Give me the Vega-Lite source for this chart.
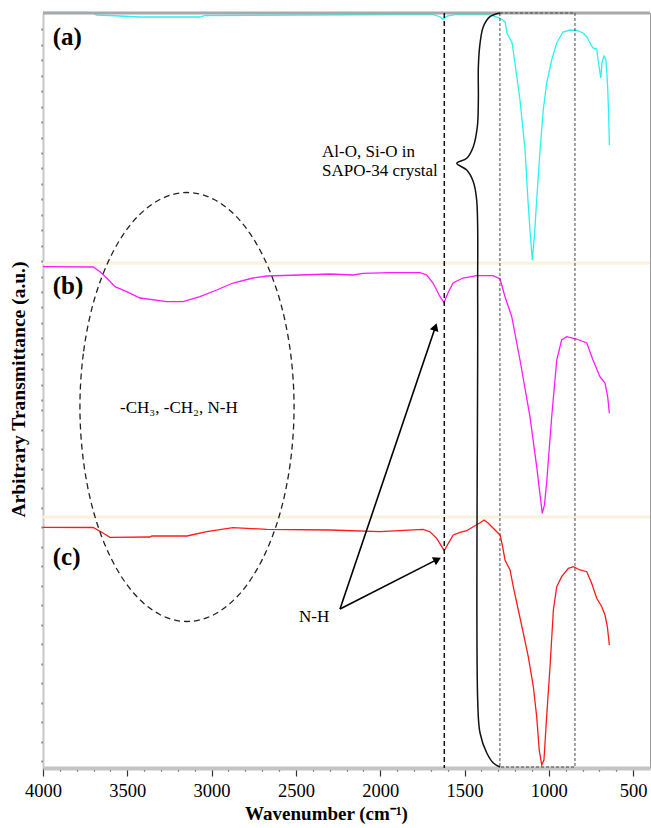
{
  "$schema": "https://vega.github.io/schema/vega-lite/v6.json",
  "width": 607,
  "height": 755,
  "autosize": {"type": "none"},
  "padding": {"left": 43, "top": 13, "right": 1, "bottom": 60},
  "background": "white",
  "config": {
    "font": "Liberation Serif",
    "view": {"stroke": "#9a9a9a", "strokeWidth": 1},
    "axis": {"grid": false}
  },
  "data": {"values": [{"one": 1}]},
  "datasets": {
    "spectra": [
      {"s":"a","wn":4000,"t":755.5},{"s":"a","wn":3720,"t":755.5},{"s":"a","wn":3680,"t":753},{"s":"a","wn":3603,"t":752.5},{"s":"a","wn":3425,"t":751},{"s":"a","wn":3069,"t":751},{"s":"a","wn":3039,"t":752.5},{"s":"a","wn":2476,"t":753},{"s":"a","wn":1883,"t":753.5},{"s":"a","wn":1687,"t":753.5},{"s":"a","wn":1645,"t":751},{"s":"a","wn":1628,"t":748.7},{"s":"a","wn":1604,"t":752},{"s":"a","wn":1556,"t":753.3},{"s":"a","wn":1349,"t":753.3},{"s":"a","wn":1289,"t":749.7},{"s":"a","wn":1260,"t":746.3},{"s":"a","wn":1248,"t":735},{"s":"a","wn":1218,"t":725},{"s":"a","wn":1201,"t":705},{"s":"a","wn":1171,"t":668},{"s":"a","wn":1141,"t":618},{"s":"a","wn":1124,"t":568},{"s":"a","wn":1112,"t":538},{"s":"a","wn":1098,"t":508},{"s":"a","wn":1085,"t":533},{"s":"a","wn":1072,"t":568},{"s":"a","wn":1052,"t":618},{"s":"a","wn":1033,"t":658},{"s":"a","wn":1013,"t":685},{"s":"a","wn":983,"t":708},{"s":"a","wn":953,"t":725},{"s":"a","wn":916,"t":736},{"s":"a","wn":874,"t":738},{"s":"a","wn":833,"t":737.5},{"s":"a","wn":797,"t":735},{"s":"a","wn":774,"t":731},{"s":"a","wn":756,"t":725},{"s":"a","wn":738,"t":720},{"s":"a","wn":716,"t":719},{"s":"a","wn":708,"t":708},{"s":"a","wn":692,"t":690},{"s":"a","wn":685,"t":705},{"s":"a","wn":673,"t":712},{"s":"a","wn":661,"t":708},{"s":"a","wn":651,"t":681},{"s":"a","wn":645,"t":651},{"s":"a","wn":641,"t":623},
      {"s":"b","wn":4000,"t":501.3},{"s":"b","wn":3702,"t":501},{"s":"b","wn":3662,"t":496.3},{"s":"b","wn":3622,"t":490},{"s":"b","wn":3573,"t":481.3},{"s":"b","wn":3504,"t":476.3},{"s":"b","wn":3425,"t":470},{"s":"b","wn":3266,"t":466.3},{"s":"b","wn":3170,"t":466.3},{"s":"b","wn":3069,"t":471.3},{"s":"b","wn":2970,"t":478},{"s":"b","wn":2873,"t":485},{"s":"b","wn":2755,"t":490},{"s":"b","wn":2673,"t":492},{"s":"b","wn":2476,"t":493},{"s":"b","wn":2298,"t":494},{"s":"b","wn":2161,"t":493},{"s":"b","wn":2102,"t":494.7},{"s":"b","wn":1942,"t":495.3},{"s":"b","wn":1764,"t":495.3},{"s":"b","wn":1724,"t":493},{"s":"b","wn":1687,"t":485},{"s":"b","wn":1645,"t":471.3},{"s":"b","wn":1622,"t":465.3},{"s":"b","wn":1598,"t":475},{"s":"b","wn":1568,"t":485},{"s":"b","wn":1509,"t":490},{"s":"b","wn":1428,"t":492.3},{"s":"b","wn":1331,"t":492.3},{"s":"b","wn":1289,"t":489},{"s":"b","wn":1260,"t":471.3},{"s":"b","wn":1220,"t":451.3},{"s":"b","wn":1171,"t":408},{"s":"b","wn":1112,"t":351.3},{"s":"b","wn":1072,"t":301.3},{"s":"b","wn":1052,"t":273},{"s":"b","wn":1039,"t":254.7},{"s":"b","wn":1026,"t":263},{"s":"b","wn":1013,"t":285},{"s":"b","wn":983,"t":351.3},{"s":"b","wn":953,"t":408},{"s":"b","wn":924,"t":428},{"s":"b","wn":894,"t":431.3},{"s":"b","wn":835,"t":429},{"s":"b","wn":775,"t":425},{"s":"b","wn":738,"t":408},{"s":"b","wn":697,"t":391.3},{"s":"b","wn":667,"t":385},{"s":"b","wn":651,"t":371.3},{"s":"b","wn":641,"t":354.7},
      {"s":"c","wn":4000,"t":240.7},{"s":"c","wn":3703,"t":240.5},{"s":"c","wn":3644,"t":235},{"s":"c","wn":3603,"t":230.7},{"s":"c","wn":3365,"t":231},{"s":"c","wn":3354,"t":232},{"s":"c","wn":3146,"t":232},{"s":"c","wn":3029,"t":236.3},{"s":"c","wn":2873,"t":240.3},{"s":"c","wn":2673,"t":238.7},{"s":"c","wn":2298,"t":238},{"s":"c","wn":2001,"t":236.3},{"s":"c","wn":1746,"t":238.7},{"s":"c","wn":1705,"t":236.3},{"s":"c","wn":1665,"t":229.7},{"s":"c","wn":1635,"t":221.3},{"s":"c","wn":1620,"t":217.3},{"s":"c","wn":1596,"t":224.7},{"s":"c","wn":1567,"t":233},{"s":"c","wn":1527,"t":235.7},{"s":"c","wn":1487,"t":237.3},{"s":"c","wn":1448,"t":241.3},{"s":"c","wn":1408,"t":245.3},{"s":"c","wn":1384,"t":248},{"s":"c","wn":1359,"t":244.7},{"s":"c","wn":1319,"t":238},{"s":"c","wn":1289,"t":233},{"s":"c","wn":1274,"t":221.3},{"s":"c","wn":1260,"t":208},{"s":"c","wn":1230,"t":198},{"s":"c","wn":1211,"t":181.3},{"s":"c","wn":1181,"t":158},{"s":"c","wn":1151,"t":134.7},{"s":"c","wn":1122,"t":111.3},{"s":"c","wn":1092,"t":81.3},{"s":"c","wn":1072,"t":51.3},{"s":"c","wn":1057,"t":18},{"s":"c","wn":1042,"t":3},{"s":"c","wn":1029,"t":8},{"s":"c","wn":1013,"t":51.3},{"s":"c","wn":993,"t":101.3},{"s":"c","wn":973,"t":158},{"s":"c","wn":953,"t":181.3},{"s":"c","wn":924,"t":191.3},{"s":"c","wn":884,"t":199.7},{"s":"c","wn":855,"t":201.3},{"s":"c","wn":815,"t":198},{"s":"c","wn":775,"t":196.3},{"s":"c","wn":746,"t":184.7},{"s":"c","wn":716,"t":169.7},{"s":"c","wn":686,"t":161.3},{"s":"c","wn":667,"t":153},{"s":"c","wn":653,"t":141.3},{"s":"c","wn":641,"t":123}
    ],
    "ellipse": [
      {"i":0,"wn":3781,"t":361},{"i":1,"wn":3759,"t":416.6},{"i":2,"wn":3696,"t":468.3},{"i":3,"wn":3595,"t":512.7},{"i":4,"wn":3464,"t":546.8},{"i":5,"wn":3310,"t":568.2},{"i":6,"wn":3146,"t":575.5},{"i":7,"wn":2982,"t":568.2},{"i":8,"wn":2828,"t":546.8},{"i":9,"wn":2697,"t":512.7},{"i":10,"wn":2596,"t":468.3},{"i":11,"wn":2533,"t":416.6},{"i":12,"wn":2511,"t":361},{"i":13,"wn":2533,"t":305.4},{"i":14,"wn":2596,"t":253.7},{"i":15,"wn":2697,"t":209.3},{"i":16,"wn":2828,"t":175.2},{"i":17,"wn":2982,"t":153.8},{"i":18,"wn":3146,"t":146.5},{"i":19,"wn":3310,"t":153.8},{"i":20,"wn":3464,"t":175.2},{"i":21,"wn":3595,"t":209.3},{"i":22,"wn":3696,"t":253.7},{"i":23,"wn":3759,"t":305.4}
    ],
    "brace": [
      {"i":1,"wn":1289.5,"t":755},{"i":2,"wn":1349,"t":751.3},{"i":3,"wn":1388.6,"t":741.3},{"i":4,"wn":1408,"t":724.7},{"i":5,"wn":1418,"t":701.3},{"i":6,"wn":1418,"t":668},{"i":7,"wn":1424,"t":641.3},{"i":8,"wn":1448,"t":621.3},{"i":9,"wn":1487,"t":609.7},{"i":10,"wn":1546,"t":604.7},{"i":11,"wn":1487,"t":598},{"i":12,"wn":1448,"t":586.3},{"i":13,"wn":1428,"t":568},{"i":14,"wn":1422,"t":468},{"i":15,"wn":1422,"t":68},{"i":16,"wn":1408,"t":35},{"i":17,"wn":1368,"t":15},{"i":18,"wn":1329,"t":5},{"i":19,"wn":1289.5,"t":1}
    ],
    "arrows": [
      {"wn":2238.5,"t":159,"wn2":1673,"t2":441.1},
      {"wn":2238.5,"t":159,"wn2":1661,"t2":208.6}
    ],
    "panels": [
      {"label":"(a)","wn":3942,"t":731.3},
      {"label":"(b)","wn":3942,"t":482.5},
      {"label":"(c)","wn":3942,"t":211.5}
    ],
    "notes": [
      {"label":"Al-O, Si-O in","wn":2345,"t":616},
      {"label":"SAPO-34 crystal","wn":2345,"t":597},
      {"label":"-CH₃, -CH₂, N-H","wn":3543,"t":359.7},
      {"label":"N-H","wn":2482,"t":151}
    ]
  },
  "encoding": {
    "x": {
      "type": "quantitative",
      "scale": {"domain": [400, 4000], "reverse": true, "nice": false, "zero": false},
      "axis": {
        "title": "Wavenumber (cm⁻¹)",
        "values": [4000,3900,3800,3700,3600,3500,3400,3300,3200,3100,3000,2900,2800,2700,2600,2500,2400,2300,2200,2100,2000,1900,1800,1700,1600,1500,1400,1300,1200,1100,1000,900,800,700,600,500],
        "format": "d",
        "labelExpr": "datum.value % 500 === 0 ? datum.label : ''",
        "labelOverlap": false,
        "labelFlush": false,
        "labelBound": false,
        "labelFontSize": 18.5,
        "labelColor": "black",
        "labelPadding": 5,
        "tickSize": {"condition": {"test": "datum.value % 500 === 0", "value": 8}, "value": 3},
        "tickColor": "#333",
        "tickWidth": 1.2,
        "domainColor": "#c4c4c4",
        "domainWidth": 4,
        "titleFontSize": 19,
        "titleFontWeight": "bold",
        "titleColor": "black",
        "titleX": 283,
        "titleY": 45,
        "titleBaseline": "middle"
      }
    },
    "y": {
      "type": "quantitative",
      "scale": {"domain": [0, 755], "nice": false, "zero": false},
      "axis": {
        "title": "Arbitrary  Transmittance (a.u.)",
        "values": [738.7,723.2,707.8,692.3,676.9,661.4,646,630.5,615.1,599.6,584.2,568.7,553.3,537.8,522.4,506.9,491.5,476,460.6,445.1,429.7,414.2,398.8,383.3,367.9,358,338.5,319,299.5,280,260.5,241,221.5,202,182.5,163,143.5,124,104.5,85,65.5,46,26.5,7],
        "labels": false,
        "tickSize": 2,
        "tickWidth": 2,
        "tickColor": "#555",
        "domainColor": "#c8c8c8",
        "domainWidth": 2,
        "titleFontSize": 19.5,
        "titleFontWeight": "bold",
        "titleColor": "black",
        "titleX": -25,
        "titleY": 376,
        "titleAngle": 270,
        "titleAlign": "center",
        "titleBaseline": "middle"
      }
    }
  },
  "layer": [
    {"mark": {"type": "rule", "color": "#fbf2dc", "strokeWidth": 3}, "encoding": {"y": {"datum": 505}}},
    {"mark": {"type": "rule", "color": "#fbf2dc", "strokeWidth": 3}, "encoding": {"y": {"datum": 251}}},
    {
      "data": {"name": "spectra"},
      "mark": {"type": "line", "strokeWidth": 1.3},
      "encoding": {
        "x": {"field": "wn", "type": "quantitative"},
        "y": {"field": "t", "type": "quantitative"},
        "color": {"field": "s", "type": "nominal", "scale": {"domain": ["a","b","c"], "range": ["#2af2f2","#ff1aff","#ff1a1a"]}, "legend": null}
      }
    },
    {"mark": {"type": "rule", "color": "#a8a8a8", "strokeWidth": 3}, "encoding": {"y": {"datum": 755}}},
    {"mark": {"type": "rule", "color": "#111", "strokeWidth": 1.5, "strokeDash": [5,3]}, "encoding": {"x": {"datum": 1620}}},
    {
      "mark": {"type": "rect", "fill": null, "fillOpacity": 0, "stroke": "#444", "strokeWidth": 1, "strokeDash": [3,2]},
      "encoding": {"x": {"datum": 1290}, "x2": {"datum": 845}, "y": {"datum": 1}, "y2": {"datum": 755}}
    },
    {
      "data": {"name": "brace"},
      "mark": {"type": "line", "color": "#111", "strokeWidth": 1.5, "interpolate": "catmull-rom"},
      "encoding": {"x": {"field": "wn", "type": "quantitative"}, "y": {"field": "t", "type": "quantitative"}, "order": {"field": "i", "type": "quantitative"}}
    },
    {
      "data": {"name": "ellipse"},
      "mark": {"type": "line", "color": "#222", "strokeWidth": 1.3, "strokeDash": [6,4], "interpolate": "cardinal-closed"},
      "encoding": {"x": {"field": "wn", "type": "quantitative"}, "y": {"field": "t", "type": "quantitative"}, "order": {"field": "i", "type": "quantitative"}}
    },
    {
      "data": {"name": "arrows"},
      "mark": {"type": "rule", "color": "black", "strokeWidth": 1.6},
      "encoding": {"x": {"field": "wn", "type": "quantitative"}, "y": {"field": "t", "type": "quantitative"}, "x2": {"field": "wn2"}, "y2": {"field": "t2"}}
    },
    {
      "mark": {"type": "point", "shape": "triangle-up", "filled": true, "color": "black", "opacity": 1, "size": 81, "angle": 18.7},
      "encoding": {"x": {"datum": 1673}, "y": {"datum": 441.1}}
    },
    {
      "mark": {"type": "point", "shape": "triangle-up", "filled": true, "color": "black", "opacity": 1, "size": 81, "angle": 63},
      "encoding": {"x": {"datum": 1661}, "y": {"datum": 208.6}}
    },
    {
      "data": {"name": "panels"},
      "mark": {"type": "text", "align": "left", "baseline": "middle", "fontSize": 25, "fontWeight": "bold", "color": "black", "font": "Liberation Serif"},
      "encoding": {"x": {"field": "wn", "type": "quantitative"}, "y": {"field": "t", "type": "quantitative"}, "text": {"field": "label"}}
    },
    {
      "data": {"name": "notes"},
      "mark": {"type": "text", "align": "left", "baseline": "middle", "fontSize": 17, "color": "black", "font": "Liberation Serif"},
      "encoding": {"x": {"field": "wn", "type": "quantitative"}, "y": {"field": "t", "type": "quantitative"}, "text": {"field": "label"}}
    }
  ]
}
